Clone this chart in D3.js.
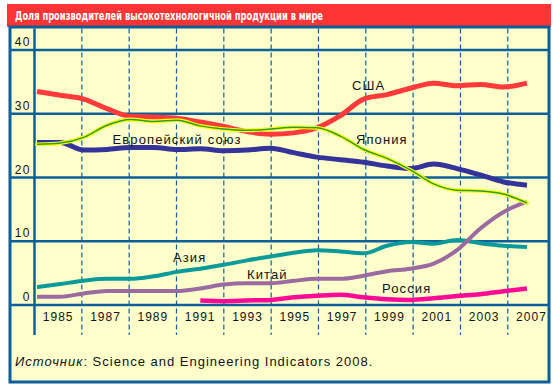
<!DOCTYPE html>
<html><head><meta charset="utf-8">
<script src="https://cdn.jsdelivr.net/npm/d3@7"></script>
<style>body{margin:0;background:#fff}svg{display:block}</style>
</head><body><svg id="c" width="558" height="390"></svg>
<script>
const title = "Доля производителей высокотехнологичной продукции в мире";
const sourceItalic = "Источник";
const sourceRest = ": Science and Engineering Indicators 2008.";
const years = [1985,1986,1987,1988,1989,1990,1991,1992,1993,1994,1995,1996,1997,1998,1999,2000,2001,2002,2003,2004,2005,2006];
const tickLabels = ["1985","1987","1989","1991","1993","1995","1997","1999","2001","2003","2007"];
const yTicks = [0,10,20,30,40];
const usa    = [33.5,32.9,32.3,30.8,29.6,29.5,29.3,28.7,28.0,27.2,26.8,27.0,27.8,29.7,32.3,33.0,34.0,34.8,34.4,34.6,34.2,34.8];
const eu     = [25.5,25.5,24.3,24.4,24.7,24.7,24.4,24.5,24.2,24.3,24.6,23.9,23.2,22.8,22.4,21.8,21.4,22.1,21.4,20.4,19.3,18.8];
const japan  = [25.2,25.4,26.3,28.2,29.1,28.8,29.0,28.1,27.6,27.4,27.6,27.9,27.8,26.5,24.4,23.0,21.2,19.0,18.0,17.9,17.4,16.0];
const asia   = [2.8,3.3,3.8,4.1,4.1,4.5,5.2,5.7,6.3,7.0,7.6,8.2,8.6,8.4,8.1,9.3,9.9,9.6,10.2,9.7,9.3,9.1];
const china  = [1.3,1.3,1.8,2.2,2.2,2.2,2.2,2.6,3.2,3.4,3.4,3.8,4.1,4.1,4.6,5.3,5.7,6.5,8.6,12.0,14.6,16.2];
const russia = [null,null,null,null,null,null,null,0.7,0.6,0.7,0.8,1.2,1.45,1.6,1.2,0.9,0.8,1.05,1.4,1.7,2.15,2.6];
const seriesNames = ["Азия","Китай","Россия","Европейский союз","США","Япония"];
const seriesValues = [asia, china, russia, eu, usa, japan];
const seriesColors = ["#0a9a9a","#9a6aa0","#ff0a96","#33339a","#ff3a3a","#2f9a3a"];
// label anchors in data units: [year, value]
const labelAnchors = [[1990.83,6.8],[1994.0,4.08],[1999.79,1.93],[1988.24,25.25],[1998.5,33.7],[1998.67,25.25]];

const svg = d3.select("#c");
const blue = "#0c5f99";
const fontMain = "'Liberation Sans', Arial, Helvetica, sans-serif";

const x = d3.scaleLinear().domain([1985, 2006]).range([37, 527]);
const y = d3.scaleLinear().domain([0, 40]).range([305, 50]);
const xb = d3.scaleBand().domain(tickLabels).range([34.5, 34.5 + 11 * 47.33]);

// header
svg.append("rect").attr("x",7).attr("y",4).attr("width",544).attr("height",23).attr("fill","#ff3535");
svg.append("text").attr("x",15).attr("y",20).attr("fill","#fff")
  .attr("font-family","'Liberation Sans Narrow','DejaVu Sans Condensed',sans-serif")
  .attr("font-weight","bold").attr("font-size",12.5)
  .attr("textLength",308).attr("lengthAdjust","spacingAndGlyphs").text(title);

// frame
svg.append("rect").attr("x",10).attr("y",27).attr("width",539).attr("height",355)
  .attr("fill","#ffffcc").attr("stroke",blue).attr("stroke-width",3);

// dashed verticals
svg.append("g").selectAll("line").data(tickLabels.slice(1)).join("line")
  .attr("x1",d=>xb(d)).attr("x2",d=>xb(d)).attr("y1",28.5).attr("y2",335)
  .attr("stroke",blue).attr("stroke-width",1.2).attr("stroke-dasharray","5,3");

// horizontal gridlines
svg.append("g").selectAll("line").data(yTicks).join("line")
  .attr("x1",10).attr("x2",549).attr("y1",d=>y(d)).attr("y2",d=>y(d))
  .attr("stroke",blue).attr("stroke-width",2.5);

// y axis line
svg.append("line").attr("x1",34.5).attr("x2",34.5).attr("y1",28.5).attr("y2",335)
  .attr("stroke",blue).attr("stroke-width",2.5);

// y tick labels
svg.append("g").selectAll("text").data(yTicks).join("text")
  .attr("x",31).attr("y",d=>y(d)-4).attr("text-anchor","end")
  .attr("font-family",fontMain).attr("font-size",12).attr("letter-spacing",1.5)
  .attr("fill","#111").text(d=>d);

// x tick labels
svg.append("g").selectAll("text").data(tickLabels).join("text")
  .attr("x",d=>xb(d)+xb.bandwidth()/2).attr("y",321).attr("text-anchor","middle")
  .attr("font-family",fontMain).attr("font-size",12).attr("letter-spacing",1)
  .attr("fill","#111").text(d=>d);

// lines
const line = d3.line().defined(d=>d[1]!=null).x(d=>x(d[0])).y(d=>y(d[1])).curve(d3.curveMonotoneX);
const widths = [4,4,4.5,5,5,0];
seriesValues.forEach((vals,i)=>{
  const pts = years.map((yr,j)=>[yr, vals[j]]);
  if (seriesNames[i] === "Япония") {
    svg.append("path").attr("d",line(pts)).attr("fill","none").attr("stroke","#ffff00").attr("stroke-width",3.8).attr("stroke-linecap","round");
    svg.append("path").attr("d",line(pts)).attr("fill","none").attr("stroke",seriesColors[i]).attr("stroke-width",1.5);
  } else {
    svg.append("path").attr("d",line(pts)).attr("fill","none").attr("stroke",seriesColors[i]).attr("stroke-width",widths[i]).attr("stroke-linecap","butt");
  }
});

// series labels
svg.append("g").selectAll("text").data(seriesNames).join("text")
  .attr("x",(d,i)=>x(labelAnchors[i][0])).attr("y",(d,i)=>y(labelAnchors[i][1]))
  .attr("font-family",fontMain).attr("font-size",13).attr("letter-spacing",1.1)
  .attr("fill","#111").text(d=>d);

// source
const src = svg.append("text").attr("x",15).attr("y",366).attr("font-family",fontMain)
  .attr("font-size",13).attr("letter-spacing",1).attr("fill","#111");
src.append("tspan").attr("font-style","italic").text(sourceItalic);
src.append("tspan").text(sourceRest);
</script></body></html>
